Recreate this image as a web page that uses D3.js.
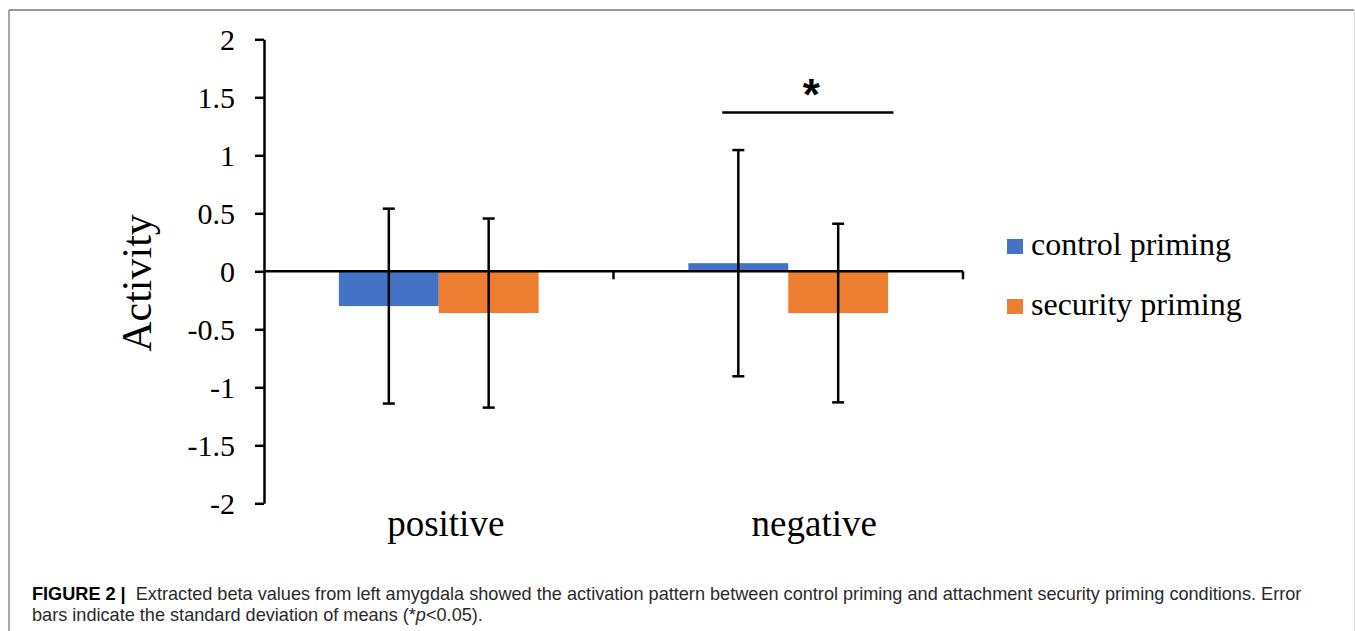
<!DOCTYPE html>
<html>
<head>
<meta charset="utf-8">
<script src="https://cdn.jsdelivr.net/npm/d3@7"></script>
<style>
  html, body { margin: 0; padding: 0; background: #fff; }
  svg { display: block; }
</style>
</head>
<body>
<svg id="chart"></svg>
<script>
const categories = ["positive", "negative"];
const series = ["control priming", "security priming"];
const colors = ["#4472C4", "#ED7D31"];
// mean activity per category, one array per series
const controlMeans = [-0.30, 0.07];
const securityMeans = [-0.36, -0.36];
// standard deviations (error bars)
const controlSD = [0.84, 0.975];
const securitySD = [0.815, 0.77];
const yTicks = [-2, -1.5, -1, -0.5, 0, 0.5, 1, 1.5, 2];
const sigMark = { category: "negative", value: 1.37, label: "*" };
const captionBold = "FIGURE 2 |";
const captionLine1 = "  Extracted beta values from left amygdala showed the activation pattern between control priming and attachment security priming conditions. Error";
const captionLine2 = ["bars indicate the standard deviation of means (*", "p", "<0.05)."];

const W = 1355, H = 631;
const svg = d3.select("#chart").attr("width", W).attr("height", H);
const serif = "'Liberation Serif', 'Times New Roman', serif";

// frame round the figure
svg.append("line").attr("x1", 9).attr("x2", 1354).attr("y1", 10).attr("y2", 10)
  .attr("stroke", "#777").attr("stroke-width", 1.5);
svg.append("line").attr("x1", 9).attr("x2", 9).attr("y1", 10).attr("y2", H)
  .attr("stroke", "#888").attr("stroke-width", 1.5);
svg.append("line").attr("x1", 1354.5).attr("x2", 1354.5).attr("y1", 10).attr("y2", H)
  .attr("stroke", "#ddd").attr("stroke-width", 1);

const y = d3.scaleLinear().domain([-2, 2]).range([503.3, 39.3]);
const x = d3.scaleBand().domain(categories).range([264, 963]).padding(0);
const xSub = d3.scaleBand().domain(series).range([0, x.bandwidth()])
  .paddingInner(0).paddingOuter(0.75);

const data = [];
categories.forEach((c, i) => {
  data.push({ cat: c, s: series[0], v: controlMeans[i], sd: controlSD[i], fill: colors[0] });
  data.push({ cat: c, s: series[1], v: securityMeans[i], sd: securitySD[i], fill: colors[1] });
});

// bars
svg.append("g").selectAll("rect").data(data).join("rect")
  .attr("x", d => x(d.cat) + xSub(d.s))
  .attr("width", xSub.bandwidth())
  .attr("y", d => y(Math.max(0, d.v)))
  .attr("height", d => Math.abs(y(d.v) - y(0)))
  .attr("fill", d => d.fill);

// y axis
const yAxis = svg.append("g").attr("transform", `translate(${x.range()[0]},0)`)
  .call(d3.axisLeft(y).tickValues(yTicks).tickSize(9).tickSizeOuter(0)
    .tickPadding(20).tickFormat(d => String(d)));
yAxis.select(".domain").attr("stroke", "#000").attr("stroke-width", 2.5);
yAxis.selectAll(".tick line").attr("stroke", "#000").attr("stroke-width", 2.5);
yAxis.selectAll(".tick text").attr("font-family", serif).attr("font-size", 30)
  .attr("fill", "#000").attr("dy", "0.33em");

// x axis along zero
const y0 = y(0);
svg.append("line").attr("x1", x.range()[0]).attr("x2", x.range()[1])
  .attr("y1", y0).attr("y2", y0).attr("stroke", "#000").attr("stroke-width", 2.5);
svg.append("g").selectAll("line").data(categories).join("line")
  .attr("x1", d => x(d) + x.bandwidth()).attr("x2", d => x(d) + x.bandwidth())
  .attr("y1", y0).attr("y2", y0 + 8)
  .attr("stroke", "#000").attr("stroke-width", 2.5);

// category labels (placed slightly right of centre as in the original)
const labelShift = [7, 26];
svg.append("g").selectAll("text").data(categories).join("text")
  .attr("x", (d, i) => x(d) + x.bandwidth() / 2 + labelShift[i])
  .attr("y", 536)
  .attr("text-anchor", "middle")
  .attr("font-family", serif).attr("font-size", 37).attr("fill", "#000")
  .text(d => d);

// error bars
const eb = svg.append("g").attr("stroke", "#000").attr("stroke-width", 2.5);
data.forEach(d => {
  const cx = x(d.cat) + xSub(d.s) + xSub.bandwidth() / 2;
  eb.append("line").attr("x1", cx).attr("x2", cx)
    .attr("y1", y(d.v + d.sd)).attr("y2", y(d.v - d.sd));
  [d.v + d.sd, d.v - d.sd].forEach(v => {
    eb.append("line").attr("x1", cx - 6).attr("x2", cx + 6)
      .attr("y1", y(v)).attr("y2", y(v));
  });
});

// significance bar
const bx = x(sigMark.category);
svg.append("line")
  .attr("x1", bx + 0.311 * x.bandwidth()).attr("x2", bx + 0.801 * x.bandwidth())
  .attr("y1", y(sigMark.value)).attr("y2", y(sigMark.value))
  .attr("stroke", "#000").attr("stroke-width", 2.5);
svg.append("text")
  .attr("x", bx + 0.566 * x.bandwidth())
  .attr("y", y(sigMark.value) - 2)
  .attr("text-anchor", "middle")
  .attr("font-family", "'Liberation Sans', Arial, sans-serif")
  .attr("font-weight", "bold").attr("font-size", 44).attr("fill", "#000")
  .text(sigMark.label);

// y title
svg.append("text")
  .attr("transform", "translate(151,283) rotate(-90)")
  .attr("text-anchor", "middle")
  .attr("font-family", serif).attr("font-size", 42).attr("fill", "#000")
  .text("Activity");

// legend
const legend = svg.append("g").attr("transform", "translate(1007,239)");
series.forEach((s, i) => {
  const g = legend.append("g").attr("transform", `translate(0,${i * 60})`);
  g.append("rect").attr("width", 16).attr("height", 15).attr("fill", colors[i]);
  g.append("text").attr("x", 24).attr("y", 16)
    .attr("font-family", serif).attr("font-size", 32).attr("fill", "#000")
    .text(s);
});

// caption: squeezed horizontally to match the condensed face of the original
const capFont = "'Liberation Sans', Arial, sans-serif";
const capX = 32, capEnd = 1302;
const cap = svg.append("g");
const t1 = cap.append("text").attr("x", 0).attr("y", 600)
  .attr("font-family", capFont).attr("font-size", 19).attr("fill", "#2a2a2a")
  .style("white-space", "pre");
t1.append("tspan").attr("font-weight", "bold").attr("fill", "#000").text(captionBold);
t1.append("tspan").text(captionLine1);
const k = (capEnd - capX) / t1.node().getComputedTextLength();

const t2 = cap.append("text").attr("x", 0).attr("y", 621)
  .attr("font-family", capFont).attr("font-size", 19).attr("fill", "#2a2a2a");
t2.append("tspan").text(captionLine2[0]);
t2.append("tspan").attr("font-style", "italic").text(captionLine2[1]);
t2.append("tspan").text(captionLine2[2]);

cap.attr("transform", `translate(${capX},0) scale(${k},1)`);
</script>
</body>
</html>
